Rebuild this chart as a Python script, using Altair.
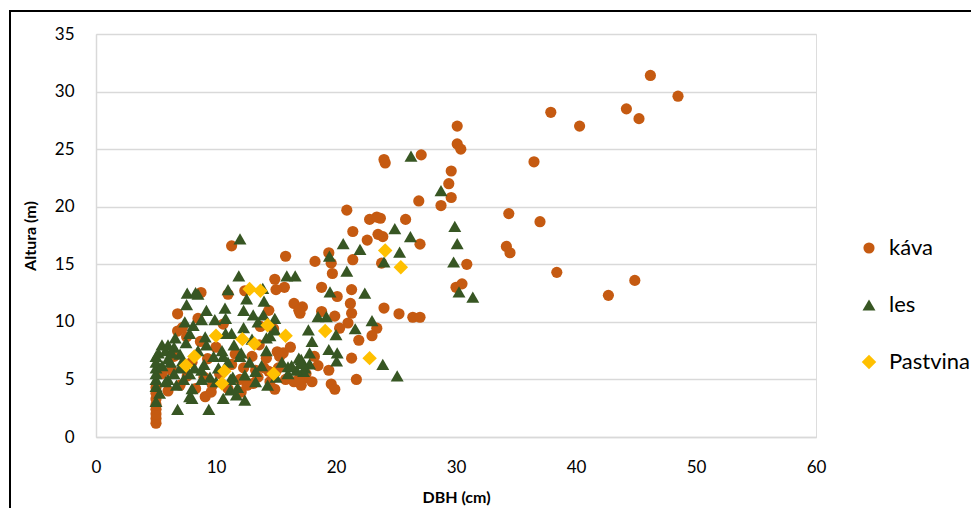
import altair as alt
import pandas as pd

# ---- data ----
kava_x = [46.2, 48.5, 44.2, 45.25, 37.9, 40.3, 36.5, 30.1, 30.1, 30.4, 27.1, 24.0, 24.1, 29.6, 29.4, 29.6, 28.75, 26.9,
          25.8, 34.4, 37.0, 23.9, 27.0, 34.2, 34.5, 30.9, 38.4, 44.9, 42.7, 30.0, 30.5, 23.7, 24.0, 25.25, 26.4, 27.0,
          20.9, 22.8, 23.4, 21.4, 23.5, 22.6, 15.8, 18.25, 19.4, 19.6, 19.7, 21.4, 23.8, 15.7, 18.8, 20.1, 21.3, 16.5,
          17.2, 17.0, 21.2, 18.8, 21.3, 19.9, 21.0, 23.4, 20.3, 21.9, 23.0, 21.3, 19.4, 21.7, 19.6, 19.9, 17.3, 17.1,
          11.3, 14.9, 15.0, 8.75, 11.0, 12.4, 16.9, 14.4, 8.5, 13.7, 14.2, 15.1, 15.6, 15.0, 14.4, 14.9, 9.1, 9.6,
          12.1, 13.1, 13.5, 16.9, 6.8, 6.8, 7.55, 14.8, 15.3,
          5.0, 5.0, 5.0, 5.0, 5.0, 5.0, 5.0, 5.0,
          5.5, 6.0, 6.3, 6.5, 7.0, 7.2, 7.6, 8.0, 8.3, 8.7, 9.0, 9.3, 9.7, 10.0, 10.3, 10.6, 11.0, 11.3, 11.6, 12.0,
          12.3, 12.6, 13.0, 13.3, 13.6, 14.0, 14.5, 15.2, 15.8, 16.2, 16.5, 17.5, 18.0, 18.5, 18.2]
kava_y = [31.4, 29.6, 28.5, 27.65, 28.2, 27.0, 23.9, 27.0, 25.45, 25.0, 24.5, 24.1, 23.8, 23.1, 22.0, 20.8, 20.1, 20.5,
          18.9, 19.4, 18.7, 17.4, 16.75, 16.55, 16.0, 15.0, 14.3, 13.6, 12.3, 13.0, 13.3, 19.0, 11.2, 10.7, 10.4, 10.4,
          19.7, 18.9, 19.1, 17.85, 17.6, 17.1, 15.7, 15.25, 16.0, 15.1, 14.2, 15.4, 15.1, 13.0, 13.0, 12.2, 12.8, 11.6,
          11.3, 10.75, 11.6, 10.9, 10.75, 10.5, 9.9, 9.45, 9.45, 8.4, 8.8, 6.85, 5.8, 5.0, 4.6, 4.15, 5.1, 4.5,
          16.6, 13.7, 12.8, 12.55, 12.4, 12.7, 11.0, 11.0, 10.3, 9.6, 6.85, 7.4, 7.3, 5.7, 5.7, 4.15, 3.5, 3.9,
          3.9, 4.65, 5.2, 5.0, 10.7, 9.2, 8.7, 9.4, 7.0,
          1.2, 1.6, 2.0, 2.4, 2.8, 3.3, 3.8, 4.3,
          5.5, 4.0, 5.8, 7.0, 4.5, 9.5, 5.3, 6.5, 4.2, 8.3, 5.2, 6.8, 4.5, 7.8, 5.5, 9.8, 4.2, 6.3, 7.2, 5.0,
          6.0, 4.5, 7.0, 5.8, 8.0, 6.0, 4.8, 6.0, 5.0, 7.8, 4.8, 5.5, 4.8, 6.2, 7.0]

les_x = [26.25, 28.75, 24.9, 26.2, 29.9, 30.1, 29.8, 30.25, 31.4, 25.3, 24.0, 20.6, 22.0, 19.45, 15.9, 16.6, 20.9,
         19.5, 22.4, 18.5, 19.2, 23.0, 21.6, 17.7, 18.0, 20.0, 19.4, 20.1, 20.05, 17.8, 17.8, 23.9, 25.1, 17.1, 17.4, 17.3,
         12.0, 11.9, 11.0, 8.5, 13.9, 12.55, 14.0, 10.75, 12.3, 13.1, 13.95, 14.9, 9.2, 8.8, 9.9, 10.8, 14.9,
         9.4, 10.6, 11.7, 12.4, 8.0, 13.3, 14.3, 16.9, 16.7,
         5.0, 6.8, 5.5, 6.6, 7.8, 7.8, 7.6, 8.3, 7.4, 8.1, 7.55,
         9.1, 11.3, 14.2, 10.6, 12.1, 8.8, 11.4, 12.4, 8.0, 11.2, 16.0, 17.1,
         5.0, 5.0, 5.0, 5.0, 5.0, 5.0, 5.2, 5.5, 5.8, 6.0, 6.2, 6.5, 6.7, 7.0, 7.0, 7.3, 7.5, 7.8, 8.2, 8.5, 8.8,
         9.0, 9.2, 9.5, 9.8, 10.0, 10.2, 10.5, 10.8, 11.0, 11.2, 11.5, 11.8, 12.0, 12.3, 12.8, 13.0, 13.3, 13.5,
         13.8, 14.2, 14.5, 15.0, 15.5, 16.0, 16.3, 6.0, 6.3, 5.8, 6.5, 7.2, 5.3, 6.0]
les_y = [24.4, 21.4, 18.1, 17.4, 18.3, 16.8, 15.2, 12.6, 12.15, 16.05, 15.2, 16.8, 16.3, 15.7, 14.0, 14.0, 14.4,
         12.6, 12.5, 10.45, 10.45, 10.1, 9.4, 9.3, 8.3, 8.9, 7.6, 7.3, 6.6, 7.3, 6.35, 6.3, 5.3, 6.75, 6.0, 5.7,
         17.2, 14.0, 12.8, 12.4, 12.9, 12.0, 11.8, 11.2, 11.0, 10.6, 10.6, 10.3, 11.0, 10.2, 10.2, 10.3, 9.3,
         2.4, 3.35, 3.65, 3.2, 3.35, 5.7, 4.5, 6.85, 5.8,
         3.1, 2.4, 8.0, 8.6, 9.0, 3.5, 12.5, 12.55, 10.0, 9.7, 11.5,
         8.7, 9.0, 8.6, 7.0, 7.3, 5.8, 5.2, 5.4, 4.2, 4.1, 6.1, 6.4,
         4.4, 5.0, 5.5, 6.0, 6.5, 7.0, 7.3, 6.2, 7.5, 5.0, 6.5, 7.8, 4.5, 6.0, 7.2, 5.0, 8.2, 5.5, 6.0, 7.5, 5.0,
         6.3, 8.0, 5.2, 7.0, 4.8, 6.0, 7.5, 9.0, 6.5, 5.0, 8.0, 4.3, 7.0, 9.5, 6.5, 8.5, 4.8, 10.0,
         6.2, 7.5, 8.8, 5.2, 6.5, 5.5, 6.2, 6.8, 7.3, 4.8, 5.5, 6.6, 3.8, 8.0]

past_x = [24.1, 25.4, 19.1, 15.8, 22.8, 12.8, 13.7, 14.3, 10.0, 12.2, 13.2, 8.2, 7.5, 10.7, 10.5, 14.8]
past_y = [16.2, 14.75, 9.2, 8.8, 6.85, 12.85, 12.7, 9.7, 8.8, 8.5, 8.1, 7.0, 6.2, 5.7, 4.65, 5.5]

categories = ["káva", "les", "Pastvina"]
colors = ["#C55A11", "#375623", "#FFC000"]
shapes = ["circle", "triangle-up", "diamond"]
sizes = [125, 210, 230]

x_ticks = [0, 10, 20, 30, 40, 50, 60]
y_ticks = [0, 5, 10, 15, 20, 25, 30, 35]

rows = []
for cat, xs, ys in zip(categories, [kava_x, les_x, past_x], [kava_y, les_y, past_y]):
    for xv, yv in zip(xs, ys):
        rows.append({"DBH": xv, "Altura": yv, "Serie": cat})
df = pd.DataFrame(rows)

W, H = 720, 403
FONT = "Lato"

points = alt.Chart(df).mark_point(filled=True, opacity=1).encode(
    x=alt.X("DBH:Q", title="DBH (cm)",
            scale=alt.Scale(domain=[0, 60], nice=False, zero=True),
            axis=alt.Axis(values=x_ticks, grid=False, ticks=False, domainColor="#D9D9D9",
                          domainWidth=1.5, labelPadding=22, labelFontSize=17, labelColor="#000000",
                          labelFlush=False, labelOverlap=False,
                          titleFontSize=16, titleFontWeight="bold", titlePadding=14, titleColor="#000000",
                          labelFont=FONT, titleFont=FONT)),
    y=alt.Y("Altura:Q", title="Altura (m)",
            scale=alt.Scale(domain=[0, 35], nice=False),
            axis=alt.Axis(values=y_ticks, grid=True, gridColor="#D9D9D9", gridWidth=1.5, ticks=False,
                          domainColor="#D9D9D9", domainWidth=1.5, labelPadding=22, labelFontSize=17,
                          labelFlush=False, labelOverlap=False,
                          labelColor="#000000", titleFontSize=16, titleFontWeight="bold", titlePadding=16,
                          titleColor="#000000", labelFont=FONT, titleFont=FONT)),
    color=alt.Color("Serie:N", scale=alt.Scale(domain=categories, range=colors),
                    legend=alt.Legend(title=None, orient="none", legendX=762, legendY=203,
                                      labelFontSize=22, labelFont=FONT, labelColor="#000000",
                                      rowPadding=35, labelOffset=9, symbolSize=100, padding=0)),
    shape=alt.Shape("Serie:N", scale=alt.Scale(domain=categories, range=shapes)),
    size=alt.Size("Serie:N", scale=alt.Scale(domain=categories, range=sizes), legend=None),
)

frame = alt.Chart(pd.DataFrame({"a": [0]})).mark_rect(
    filled=False, stroke="#000000", strokeWidth=2, clip=False
).encode(x=alt.value(-86), x2=alt.value(1200), y=alt.value(-23), y2=alt.value(800))

chart = alt.layer(points, frame).properties(
    width=W, height=H,
    autosize=alt.AutoSizeParams(type="none"),
    padding={"left": 88, "top": 26, "right": 155, "bottom": 71},
).configure_view(stroke=None).configure(background="#FFFFFF")

chart.save("out.html", embed_options={"renderer": "svg", "actions": False})
